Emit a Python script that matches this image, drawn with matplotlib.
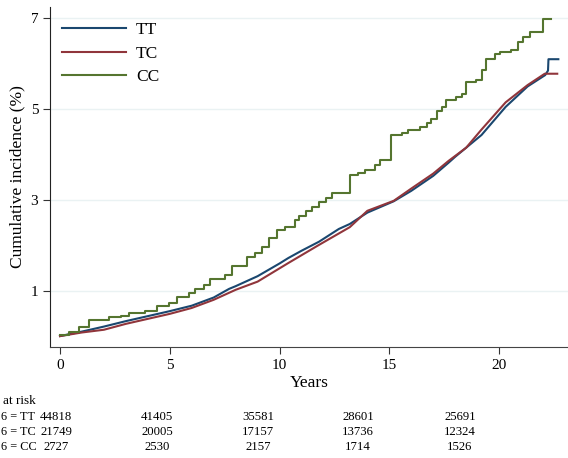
import matplotlib
matplotlib.use("Agg")
import matplotlib.pyplot as plt

plt.rcParams['font.family'] = ['Liberation Serif', 'DejaVu Serif']

# 累積発生率 (%) の読み取り値
tt_years = [0, 1, 2, 3, 4, 5, 6, 7, 7.7, 8, 9, 10, 10.4, 11, 11.8, 12.7, 13.2, 14,
            15.2, 16, 17, 17.7, 18, 19.2, 20.3, 21.3, 22.1, 22.23, 22.25, 22.7]
tt_inc = [0.0, 0.10, 0.21, 0.33, 0.44, 0.55, 0.67, 0.85, 1.04, 1.10, 1.32, 1.60, 1.72,
          1.88, 2.08, 2.36, 2.47, 2.72, 2.97, 3.20, 3.53, 3.82, 3.95, 4.43, 5.05, 5.50,
          5.75, 5.85, 6.10, 6.10]

tc_years = [0, 1, 2, 3, 4, 5, 6, 7, 8, 9, 10.4, 11.8, 13.2, 14, 15.2, 16, 17, 17.7,
            18.5, 19.2, 20.3, 21.3, 22.08, 22.65]
tc_inc = [0.0, 0.08, 0.14, 0.27, 0.38, 0.49, 0.62, 0.80, 1.02, 1.20, 1.61, 2.01, 2.40,
          2.76, 2.98, 3.25, 3.58, 3.86, 4.15, 4.55, 5.15, 5.53, 5.78, 5.78]

cc_years = [0, 0.41, 0.86, 1.32, 2.23, 2.76, 3.14, 3.89, 4.42, 4.95, 5.33, 5.86, 6.17,
            6.55, 6.85, 7.53, 7.83, 8.52, 8.89, 9.2, 9.5, 9.88, 10.26, 10.7, 10.9, 11.2,
            11.5, 11.8, 12.1, 12.4, 13.21, 13.59, 13.9, 14.35, 14.58, 15.1, 15.56, 15.86,
            16.4, 16.7, 16.92, 17.15, 17.38, 17.6, 18.06, 18.29, 18.51, 18.97, 19.2,
            19.42, 19.8, 20.03, 20.56, 20.86, 21.09, 21.39, 22.0, 22.35]
cc_inc = [0.02, 0.10, 0.21, 0.35, 0.41, 0.45, 0.51, 0.55, 0.66, 0.74, 0.86, 0.95, 1.04,
          1.13, 1.26, 1.35, 1.55, 1.74, 1.83, 1.97, 2.16, 2.34, 2.41, 2.55, 2.65, 2.75,
          2.85, 2.95, 3.05, 3.16, 3.55, 3.59, 3.66, 3.77, 3.89, 4.43, 4.48, 4.55, 4.61,
          4.70, 4.78, 4.95, 5.05, 5.21, 5.26, 5.34, 5.60, 5.64, 5.86, 6.10, 6.22, 6.26,
          6.31, 6.48, 6.58, 6.70, 6.99, 6.99]

# リスク集合
risk_labels = ["6 = TT", "6 = TC", "6 = CC"]
risk_tt = [44818, 41405, 35581, 28601, 25691]
risk_tc = [21749, 20005, 17157, 13736, 12324]
risk_cc = [2727, 2530, 2157, 1714, 1526]

x_ticks = [0, 5, 10, 15, 20]
y_ticks = [1, 3, 5, 7]

W, H = 568, 458
fig = plt.figure(figsize=(W / 100, H / 100), dpi=100)
ax = fig.add_axes([50 / W, 1 - 347 / H, 1 - 50 / W, (347 - 7) / H])

for yv in y_ticks:
    ax.axhline(yv, color="#eaf2f3", lw=1.0, zorder=0)

ax.plot(tt_years, tt_inc, color="#1a476f", lw=1.5, label="TT")
ax.plot(tc_years, tc_inc, color="#90353b", lw=1.5, label="TC")
ax.plot(cc_years, cc_inc, color="#55752f", lw=1.5, label="CC", drawstyle="steps-post")

ax.set_xlim(-0.456, 23.14)
ax.set_ylim(-0.24, 7.25)
ax.set_xticks(x_ticks)
ax.set_yticks(y_ticks)
ax.tick_params(labelsize=11, length=5, width=0.8, color="#333333")
ax.spines["top"].set_visible(False)
ax.spines["right"].set_visible(False)
ax.spines["left"].set_color("#222222")
ax.spines["bottom"].set_color("#444444")
ax.set_ylabel("Cumulative incidence (%)", fontsize=12.5)
ax.set_xlabel("Years", fontsize=12.5, labelpad=2)

leg = ax.legend(loc="upper left", bbox_to_anchor=(62 / W, 1 - 22 / H),
                bbox_transform=fig.transFigure, frameon=False, fontsize=12.5,
                handlelength=3.7, handletextpad=0.55, labelspacing=0.42,
                borderpad=0, borderaxespad=0)

# 表
fig.text(3 / W, 1 - 401 / H, "at risk", fontsize=9.5, va="center", ha="left")
col_x = [56, 157, 258, 358, 460]
row_y = [417, 432, 447]
for lab, vals, yy in zip(risk_labels, [risk_tt, risk_tc, risk_cc], row_y):
    fig.text(1 / W, 1 - yy / H, lab, fontsize=8.8, va="center", ha="left")
    for xx, v in zip(col_x, vals):
        fig.text(xx / W, 1 - yy / H, str(v), fontsize=9.2, va="center", ha="center")

fig.savefig("out.png", dpi=100)
